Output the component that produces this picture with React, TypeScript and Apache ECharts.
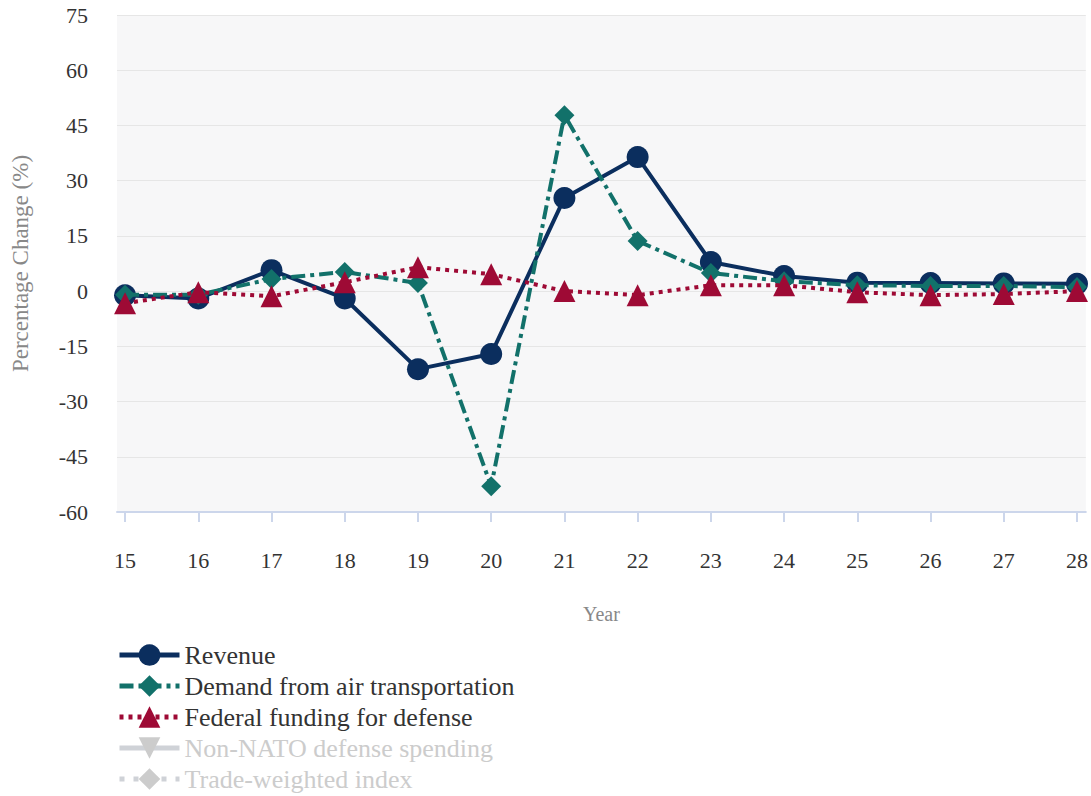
import React, { useEffect, useRef } from "react";
import * as echarts from "echarts";

const years = [15, 16, 17, 18, 19, 20, 21, 22, 23, 24, 25, 26, 27, 28];
const revenue = [-1.1, -2.0, 5.7, -2.0, -21.2, -17.1, 25.3, 36.4, 7.9, 4.1, 2.3, 2.2, 2.1, 2.0];
const demandAir = [-1.0, -1.0, 3.3, 5.2, 2.2, -53.0, 47.8, 13.6, 4.9, 2.7, 1.6, 1.4, 1.4, 1.1];
const federalDefense = [-3.3, -0.3, -1.4, 2.4, 6.5, 4.6, 0.0, -1.1, 1.6, 1.6, -0.3, -1.1, -0.8, 0.0];
const nonNato: number[] = [];
const tradeWeighted: number[] = [];

const FONT = "Liberation Serif";

const pairs = (vals: number[]) => vals.map((v, i) => [years[i], v]);

export default function App() {
  const ref = useRef<HTMLDivElement>(null);
  useEffect(() => {
    if (!ref.current) return;
    const chart = echarts.init(ref.current, undefined, { renderer: "svg" });
    chart.setOption({
      animation: false,
      textStyle: { fontFamily: FONT },
      grid: {
        left: 117,
        right: 0,
        top: 15,
        bottom: 284,
        show: true,
        backgroundColor: "#f7f7f8",
        borderWidth: 0,
      },
      legend: {
        orient: "vertical",
        left: 117,
        top: 642,
        height: 200,
        padding: 0,
        itemWidth: 60,
        itemHeight: 27,
        itemGap: 5,
        lineStyle: { width: 5, inactiveWidth: 5 },
        textStyle: { fontSize: 26, color: "#333", fontFamily: FONT },
        inactiveColor: "#cccccc",
        selected: {
          "Non-NATO defense spending": false,
          "Trade-weighted index": false,
        },
        data: [
          "Revenue",
          "Demand from air transportation",
          "Federal funding for defense",
          "Non-NATO defense spending",
          { name: "Trade-weighted index", lineStyle: { type: [5, 9], width: 5, inactiveWidth: 5 } },
        ],
      },
      xAxis: {
        type: "value",
        min: 14.89,
        max: 28.12,
        name: "Year",
        nameLocation: "middle",
        nameGap: 92,
        nameTextStyle: { fontSize: 20, color: "#888", fontFamily: FONT },
        axisLine: { show: true, onZero: false, lineStyle: { color: "#ccd6eb", width: 2 } },
        axisTick: { show: true, length: 10, customValues: years, lineStyle: { color: "#ccd6eb", width: 2 } },
        axisLabel: {
          customValues: years,
          margin: 37,
          fontSize: 22,
          color: "#333",
          fontFamily: FONT,
          formatter: (v: number) => String(v),
        },
        splitLine: { show: false },
      },
      yAxis: {
        type: "value",
        min: -60,
        max: 75,
        interval: 15,
        name: "Percentage Change (%)",
        nameLocation: "middle",
        nameGap: 85,
        nameTextStyle: { fontSize: 23, color: "#888", fontFamily: FONT },
        axisLine: { show: false },
        axisTick: { show: false },
        axisLabel: { margin: 29, fontSize: 22, color: "#333", fontFamily: FONT },
        splitLine: { show: true, lineStyle: { color: "#e6e6e6", width: 1 } },
      },
      series: [
        {
          name: "Revenue",
          type: "line",
          data: pairs(revenue),
          symbol: "circle",
          symbolSize: 22,
          color: "#0b2e5e",
          lineStyle: { width: 4, type: "solid", color: "#0b2e5e" },
          itemStyle: { color: "#0b2e5e" },
          z: 3,
        },
        {
          name: "Demand from air transportation",
          type: "line",
          data: pairs(demandAir),
          symbol: "diamond",
          symbolSize: 20,
          color: "#12716a",
          lineStyle: { width: 4, type: [14, 5, 4, 5], color: "#12716a" },
          itemStyle: { color: "#12716a" },
          z: 4,
        },
        {
          name: "Federal funding for defense",
          type: "line",
          data: pairs(federalDefense),
          symbol: "triangle",
          symbolSize: 22,
          color: "#9e0a35",
          lineStyle: { width: 4, type: [4, 5], color: "#9e0a35" },
          itemStyle: { color: "#9e0a35" },
          z: 5,
        },
        {
          name: "Non-NATO defense spending",
          type: "line",
          data: pairs(nonNato),
          symbol: "path://M0,0 L10,0 L5,10 Z",
          symbolSize: 20,
          color: "#cccccc",
          lineStyle: { width: 4, type: "solid" },
        },
        {
          name: "Trade-weighted index",
          type: "line",
          data: pairs(tradeWeighted),
          symbol: "diamond",
          symbolSize: 20,
          color: "#cccccc",
          lineStyle: { width: 4, type: [4, 8] },
        },
      ],
    });
    return () => chart.dispose();
  }, []);
  return <div ref={ref} style={{ width: 1091, height: 796, position: "absolute", left: 0, top: 0 }} />;
}
